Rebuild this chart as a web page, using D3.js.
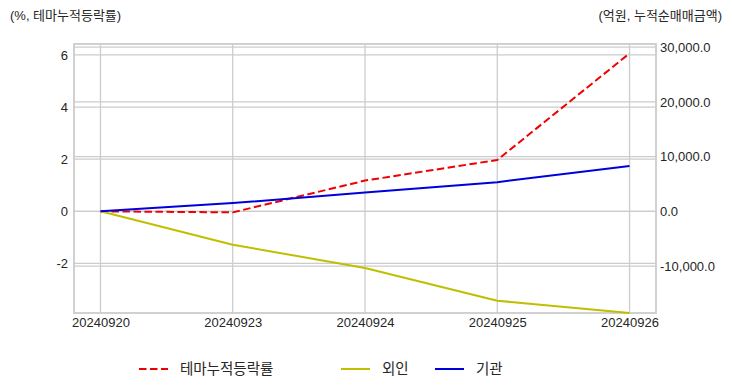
<!DOCTYPE html>
<html>
<head>
<meta charset="utf-8">
<script src="https://cdn.jsdelivr.net/npm/d3@7/dist/d3.min.js"></script>
<style>
  html, body { margin: 0; padding: 0; background: #fff; }
  svg { display: block; font-family: "Liberation Sans", "Noto Sans CJK KR", sans-serif; }
</style>
</head>
<body>
<div id="chart"></div>
<script>
// data
const dates = ["20240920", "20240923", "20240924", "20240925", "20240926"]
const themeRate = [0, -0.04, 1.18, 1.97, 6.06]          // 테마누적등락률 (%)
const foreign = [0, -6100, -10350, -16330, -18580]     // 외인 (억원)
const institution = [0, 1500, 3430, 5330, 8300]        // 기관 (억원)

const leftTicks = [-2, 0, 2, 4, 6]
const rightTicks = [-10000, 0, 10000, 20000, 30000]
const leftLimits = [-3.9, 6.42]
const rightLimits = [-18580, 30570]

const leftTitle = "(%, 테마누적등락률)"
const rightTitle = "(억원, 누적순매매금액)"

const series = [
  { name: "테마누적등락률", values: themeRate, axis: "left", color: "#f00000", dash: "7.5,3.5" },
  { name: "외인", values: foreign, axis: "right", color: "#bfbf00", dash: null },
  { name: "기관", values: institution, axis: "right", color: "#0000dd", dash: null },
]

const width = 732
const height = 392
const plot = { left: 74, right: 656, top: 44, bottom: 313 }
const GRID = "#cccccc"
const TEXT = "#262626"

const fmt = d3.formatLocale({ decimal: ".", thousands: ",", grouping: [3], currency: ["", ""], minus: "-" })

const svg = d3.select("#chart")
  .append("svg")
  .attr("width", width)
  .attr("height", height)

const x = d3.scalePoint()
  .domain(dates)
  .range([plot.left, plot.right])
  .padding(0.2)

const yLeft = d3.scaleLinear().domain(leftLimits).range([plot.bottom, plot.top])
const yRight = d3.scaleLinear().domain(rightLimits).range([plot.bottom, plot.top])

// Grid
const grid = svg.append("g").attr("class", "grid")
grid.selectAll("line.v")
  .data(dates)
  .join("line")
  .attr("class", "v")
  .attr("x1", d => x(d)).attr("x2", d => x(d))
  .attr("y1", plot.top).attr("y2", plot.bottom)
  .attr("stroke", GRID).attr("stroke-width", 1.3)

grid.selectAll("line.hl")
  .data(leftTicks)
  .join("line")
  .attr("class", "hl")
  .attr("x1", plot.left).attr("x2", plot.right)
  .attr("y1", d => yLeft(d)).attr("y2", d => yLeft(d))
  .attr("stroke", GRID).attr("stroke-width", 1.3)

grid.selectAll("line.hr")
  .data(rightTicks)
  .join("line")
  .attr("class", "hr")
  .attr("x1", plot.left).attr("x2", plot.right)
  .attr("y1", d => yRight(d)).attr("y2", d => yRight(d))
  .attr("stroke", GRID).attr("stroke-width", 1.3)

// Frame
svg.append("rect")
  .attr("x", plot.left).attr("y", plot.top)
  .attr("width", plot.right - plot.left)
  .attr("height", plot.bottom - plot.top)
  .attr("fill", "none")
  .attr("stroke", GRID)
  .attr("stroke-width", 1.8)

// Axes
const leftAxis = d3.axisLeft(yLeft).tickValues(leftTicks).tickSize(0).tickPadding(6)
  .tickFormat(fmt.format("d"))
const rightAxis = d3.axisRight(yRight).tickValues(rightTicks).tickSize(0).tickPadding(4)
  .tickFormat(fmt.format(",.1f"))
const bottomAxis = d3.axisBottom(x).tickSize(0).tickPadding(5)

function styleAxis(g) {
  g.select(".domain").remove()
  g.selectAll("text")
    .attr("fill", TEXT)
    .attr("font-size", 13)
}

svg.append("g").attr("transform", `translate(${plot.left},0)`).call(leftAxis).call(styleAxis)
svg.append("g").attr("transform", `translate(${plot.right},0)`).call(rightAxis).call(styleAxis)
svg.append("g").attr("transform", `translate(0,${plot.bottom})`).call(bottomAxis).call(styleAxis)

// Lines
series.forEach(s => {
  const y = s.axis === "left" ? yLeft : yRight
  const line = d3.line()
    .x((d, i) => x(dates[i]))
    .y(d => y(d))
  svg.append("path")
    .datum(s.values)
    .attr("d", line)
    .attr("fill", "none")
    .attr("stroke", s.color)
    .attr("stroke-width", 2)
    .attr("stroke-dasharray", s.dash)
    .attr("stroke-linejoin", "round")
})

// Axis titles
svg.append("text")
  .attr("x", 10).attr("y", 20)
  .attr("font-size", 13)
  .attr("fill", TEXT)
  .text(leftTitle)

svg.append("text")
  .attr("x", 722).attr("y", 20)
  .attr("text-anchor", "end")
  .attr("font-size", 13)
  .attr("fill", TEXT)
  .text(rightTitle)

// Legend
const legendX = [139, 341, 435]
const legend = svg.append("g").attr("transform", "translate(0,369)")
series.forEach((s, i) => {
  const g = legend.append("g").attr("transform", `translate(${legendX[i]},0)`)
  g.append("line")
    .attr("x1", 0).attr("x2", 29)
    .attr("y1", 0).attr("y2", 0)
    .attr("stroke", s.color)
    .attr("stroke-width", 2)
    .attr("stroke-dasharray", s.dash)
  g.append("text")
    .attr("x", 41).attr("y", 0)
    .attr("dy", "0.35em")
    .attr("font-size", 14.5)
    .attr("fill", TEXT)
    .text(s.name)
})
</script>
</body>
</html>
